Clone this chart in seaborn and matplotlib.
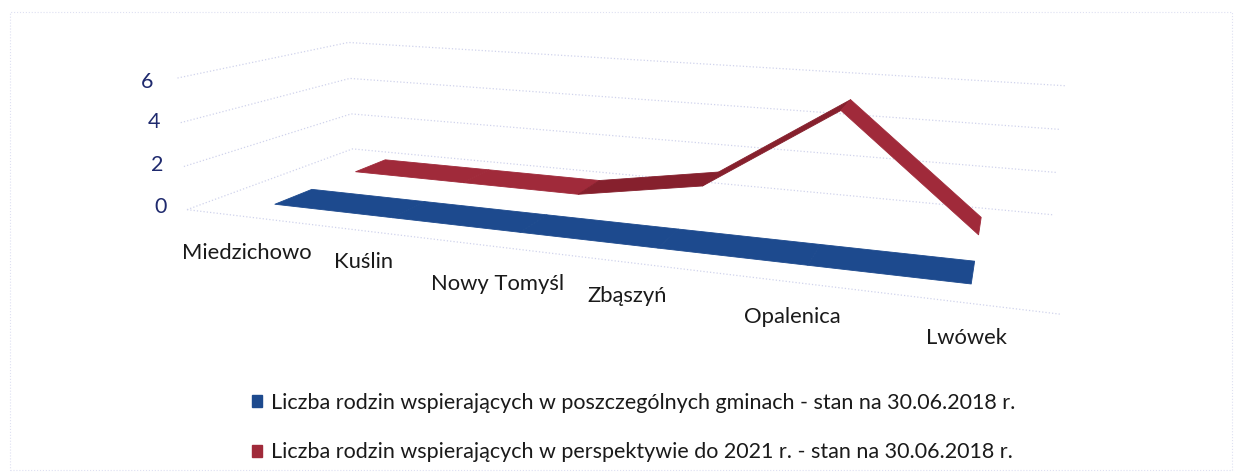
import numpy as np
import matplotlib
matplotlib.use('Agg')
import matplotlib.pyplot as plt
import seaborn as sns
from matplotlib.patches import Patch, Rectangle
from mpl_toolkits.mplot3d.art3d import Poly3DCollection

gminy = ['Miedzichowo', 'Kuślin', 'Nowy Tomyśl', 'Zbąszyń', 'Opalenica', 'Lwówek']
rodziny_2018 = [0, 0, 0, 0, 0, 0]
rodziny_2021 = [0, 0, 0, 1, 5, 0]
skala = [0, 2, 4, 6]
legenda = ['Liczba rodzin wspierających w poszczególnych gminach - stan na 30.06.2018 r.',
           'Liczba rodzin wspierających w perspektywie do 2021 r. - stan na 30.06.2018 r.']

sns.set_theme(style='white')
plt.rcParams['font.family'] = ['Lato', 'DejaVu Sans']
palette = sns.color_palette(['#1d4a8e', '#a02a3a'])
dark_red = '#86202d'
grid_col = '#d0d3ec'

W, H = 1246, 475
fig = plt.figure(figsize=(W/100, H/100), dpi=100)
ax = fig.add_subplot(projection='3d', computed_zorder=False)
ax.set_xlim(0, 6)
ax.set_ylim(0, 2)
ax.set_zlim(0, 6)
ax.view_init(12.4267, -71.1119, -0.7231)
ax.set_proj_type('persp', focal_length=0.2459)
ax.set_box_aspect((6.1618, 2.2807, 1.0))
ax.set_axis_off()

# camera was fitted to the picture, put the square axes where it lands
s, tx, ty = 4653.02, 624.57, 327.11
(x0, x1), (y0, y1) = ax.viewLim.intervalx, ax.viewLim.intervaly
ax.set_position([(tx + s*x0)/W, (ty + s*y0)/H, s*(x1-x0)/W, s*(y1-y0)/H])

# back walls and floor edge
grid_end = 6.0
for z in skala:
    ax.plot([0, 0, grid_end], [0, 2, 2], [z, z, z], color=grid_col, lw=0.9, ls=':', zorder=1, clip_on=False)
ax.plot([0, grid_end], [0, 0], [0, 0], color=grid_col, lw=0.9, ls=':', zorder=1, clip_on=False)


def ribbon(values, y_a, y_b, color, rise_color=None):
    polys, cols = [], []
    for i in range(len(values)-1):
        polys.append([(i+.5, y_a, values[i]), (i+1.5, y_a, values[i+1]),
                      (i+1.5, y_b, values[i+1]), (i+.5, y_b, values[i])])
        rising = values[i+1] > values[i]
        cols.append(rise_color if (rising and rise_color) else color)
    ax.add_collection3d(Poly3DCollection(polys, facecolors=cols, edgecolors=cols, linewidths=0.6, zorder=3))


ribbon(rodziny_2018, 0.324, 0.754, palette[0])
ribbon(rodziny_2021, 1.324, 1.754, palette[1], dark_red)

# excel staggered these by hand, pixel spots from the picture
label_xy = [(247, 253), (364, 262), (498, 284), (627, 296), (792, 317), (966, 338)]
for g, (lx, ly) in zip(gminy, label_xy):
    fig.text(lx/W, 1-ly/H, g, ha='center', va='center', fontsize=15.8, color='#1a1a1a')
tick_xy = [(161, 207), (157, 165), (154, 122), (147, 82)]
for v, (lx, ly) in zip(skala, tick_xy):
    fig.text(lx/W, 1-ly/H, str(v), ha='center', va='center', fontsize=15.5, color='#1f2a6e')

handles = [Patch(color=palette[0]), Patch(color=palette[1])]
fig.legend(handles, legenda, loc='upper left', bbox_to_anchor=(252/W, 1-393/H), frameon=False,
           fontsize=15.5, handlelength=0.48, handleheight=0.48, handletextpad=0.42, labelspacing=1.37,
           labelcolor='#1a1a1a', borderpad=0, borderaxespad=0)

fig.add_artist(Rectangle((10/W, 1-470/H), 1222/W, 458/H, transform=fig.transFigure, fill=False,
                         ec=grid_col, lw=0.8, ls=':', alpha=0.7))

fig.savefig('out.png', dpi=100)
